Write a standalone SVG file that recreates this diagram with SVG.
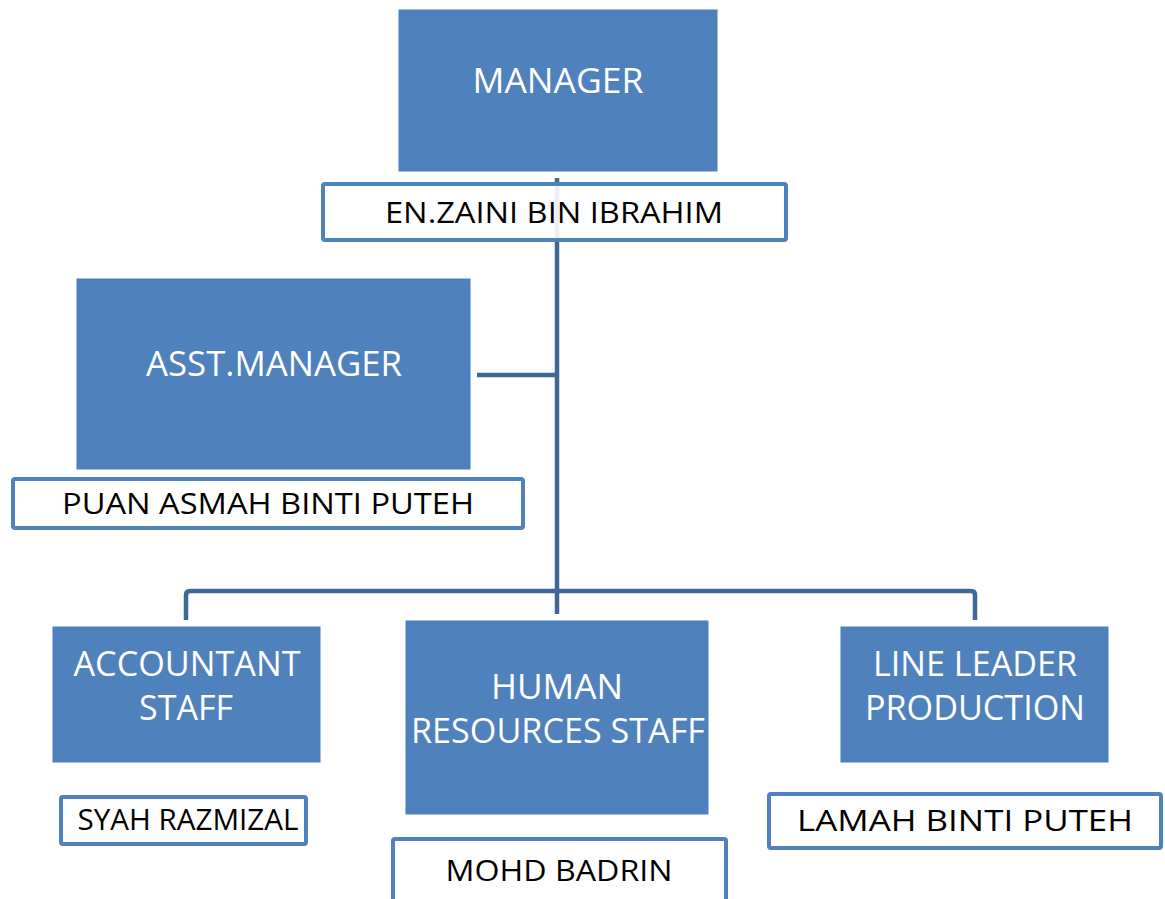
<svg xmlns="http://www.w3.org/2000/svg" width="1165" height="899" viewBox="0 0 1165 899">
<style>
.role{fill:#4F81BD;stroke:#4A7EBB;stroke-width:1}
.name{fill:#ffffff;fill-opacity:0.9;stroke:#4F81BD;stroke-width:4}
.conn{fill:none;stroke:#3F6798;stroke-width:4.5}
.wt{font-family:"Open Sans","Liberation Sans",sans-serif;fill:#ffffff;font-size:34px;text-anchor:middle}
.bt{font-family:"Open Sans","Liberation Sans",sans-serif;fill:#000000;font-size:30px;text-anchor:middle}
</style>
<rect width="1165" height="899" fill="#ffffff"/>
<g id="connectors">
<line class="conn" x1="557" y1="178" x2="557" y2="614"/>
<line class="conn" x1="477" y1="375" x2="557" y2="375"/>
<path class="conn" d="M186,620 V595 Q186,591 190,591 H971 Q975,591 975,595 V620"/>
</g>
<g id="manager">
<rect class="role" x="399" y="10" width="318" height="161"/>
<text class="wt" x="558" y="93" textLength="171" lengthAdjust="spacingAndGlyphs">MANAGER</text>
</g>
<g id="zaini">
<rect class="name" x="323" y="184" width="463" height="56" rx="2"/>
<text class="bt" x="554" y="223" textLength="338" lengthAdjust="spacingAndGlyphs">EN.ZAINI BIN IBRAHIM</text>
</g>
<g id="asst-manager">
<rect class="role" x="77" y="279" width="393" height="190"/>
<text class="wt" x="274" y="376" textLength="256" lengthAdjust="spacingAndGlyphs">ASST.MANAGER</text>
</g>
<g id="puan">
<rect class="name" x="13" y="479" width="510" height="49" rx="2"/>
<text class="bt" x="268" y="514" textLength="412" lengthAdjust="spacingAndGlyphs">PUAN ASMAH BINTI PUTEH</text>
</g>
<g id="accountant">
<rect class="role" x="53" y="627" width="267" height="135"/>
<text class="wt" x="187" y="676" textLength="227" lengthAdjust="spacingAndGlyphs">ACCOUNTANT</text>
<text class="wt" x="186" y="720" textLength="94" lengthAdjust="spacingAndGlyphs">STAFF</text>
</g>
<g id="syah">
<rect class="name" x="61" y="797" width="245" height="47" rx="2"/>
<text class="bt" x="188" y="830" font-size="27" textLength="221" lengthAdjust="spacingAndGlyphs">SYAH RAZMIZAL</text>
</g>
<g id="hr">
<rect class="role" x="406" y="621" width="302" height="193"/>
<text class="wt" x="557" y="699" textLength="132" lengthAdjust="spacingAndGlyphs">HUMAN</text>
<text class="wt" x="558" y="743" textLength="294" lengthAdjust="spacingAndGlyphs">RESOURCES STAFF</text>
</g>
<g id="mohd">
<rect class="name" x="393" y="839" width="333" height="70" rx="2"/>
<text class="bt" x="559" y="881" textLength="227" lengthAdjust="spacingAndGlyphs">MOHD BADRIN</text>
</g>
<g id="line-leader">
<rect class="role" x="841" y="627" width="267" height="135"/>
<text class="wt" x="975" y="676" textLength="204" lengthAdjust="spacingAndGlyphs">LINE LEADER</text>
<text class="wt" x="975" y="720" textLength="220" lengthAdjust="spacingAndGlyphs">PRODUCTION</text>
</g>
<g id="lamah">
<rect class="name" x="769" y="794" width="392" height="54" rx="2"/>
<text class="bt" x="965" y="831" textLength="336" lengthAdjust="spacingAndGlyphs">LAMAH BINTI PUTEH</text>
</g>
</svg>
